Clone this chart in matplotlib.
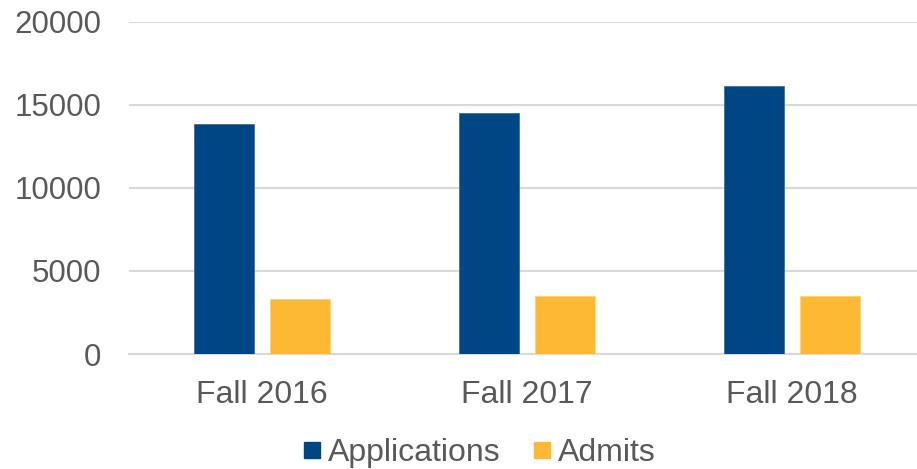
import matplotlib.pyplot as plt
import numpy as np
from matplotlib.lines import Line2D

terms = ['Fall 2016', 'Fall 2017', 'Fall 2018']
applications = [13840, 14530, 16140]
admits = [3310, 3520, 3520]

navy = '#004684'
gold = '#FDB933'
grey = '#595959'

plt.rcParams['font.family'] = ['Liberation Sans', 'DejaVu Sans']

fig = plt.figure(figsize=(9.17, 4.69), dpi=100)
ax = fig.add_axes([0.1407, 0.2452, 0.8593, 0.7079])

x = np.arange(len(terms))
w = 0.226
ax.bar(x - 0.143, applications, w, color=navy, edgecolor='#3d6fa0', linewidth=0.6, zorder=3)
ax.bar(x + 0.143, admits, w, color=gold, edgecolor='#fdd27a', linewidth=0.6, zorder=3)

ax.set_ylim(0, 20000)
ax.set_xlim(-0.5, 2.47)
ax.set_yticks([0, 5000, 10000, 15000, 20000])
ax.set_xticks(x)
ax.set_xticklabels(terms)
ax.yaxis.grid(True, color='#d9d9d9', linewidth=1.5, zorder=0)
ax.tick_params(axis='y', length=0, pad=20, labelsize=22.5, labelcolor=grey)
ax.tick_params(axis='x', length=0, pad=19, labelsize=23, labelcolor=grey)
for s in ['top', 'right', 'left']:
    ax.spines[s].set_visible(False)
ax.spines['bottom'].set_color('#d9d9d9')
ax.spines['bottom'].set_linewidth(1.5)

handles = [Line2D([], [], marker='s', linestyle='', markersize=11, color=navy),
           Line2D([], [], marker='s', linestyle='', markersize=11, color=gold)]
fig.legend(handles, ['Applications', 'Admits'], loc='center', bbox_to_anchor=(0.521, 0.034),
           ncol=2, frameon=False, fontsize=23, labelcolor=grey, handletextpad=0.1,
           columnspacing=0.9, handlelength=0.8)

fig.savefig('out.png', dpi=100)
